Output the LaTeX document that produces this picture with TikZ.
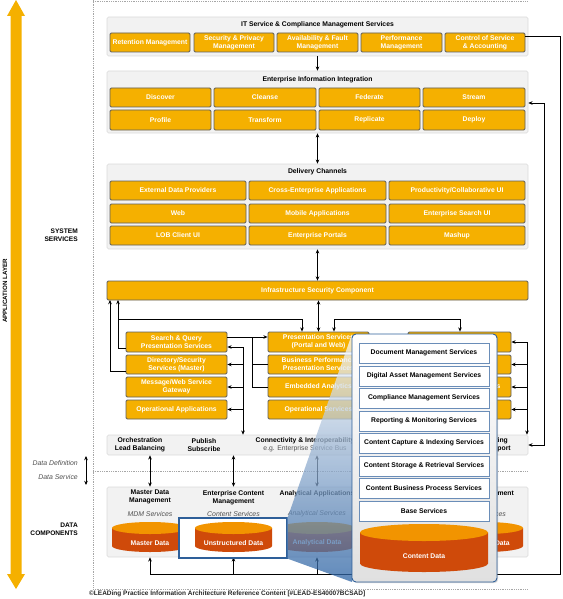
\documentclass[tikz,border=0pt]{standalone}
\usepackage{fontspec}
\setmainfont{Liberation Sans}
\usetikzlibrary{arrows.meta,shadows,calc}
\definecolor{gold}{HTML}{F5B000}
\definecolor{boxborder}{HTML}{5E5E5E}
\definecolor{panelfill}{HTML}{F2F2F2}
\definecolor{panelborder}{HTML}{DADADA}
\definecolor{cyltop}{HTML}{F29400}
\definecolor{cylbody}{HTML}{CF4A0A}
\definecolor{beamblue}{HTML}{2B62A3}
\definecolor{popborder}{HTML}{2E5F99}
\definecolor{sboxborder}{HTML}{6A8DB8}
\definecolor{textgray}{HTML}{505050}
\definecolor{popbot}{HTML}{E0E0E0}
\newcommand\fsz{\fontsize{6.8pt}{8pt}\selectfont}
\newcommand\rbox[7]{\node[#1,minimum width={(#5-#3)*1pt},minimum height={(#6-#4)*1pt}] (#2) at ({(#3+#5)/2},{(#4+#6)/2}) {#7};}
\newcommand\cyl[7]{%
  \fill[cylbody] ({#2-#4},#3) -- ({#2-#4},#6) arc[start angle=180,end angle=0,x radius=#4,y radius=#5] -- ({#2+#4},#3) -- cycle;
  \fill[cyltop] (#2,#3) ellipse [x radius=#4, y radius=#5];
  \node[font=\bfseries\fsz,text=white,inner sep=0] (#1) at (#2,{(#3+#6)/2+#5}) {#7};}
\begin{document}
\begin{tikzpicture}[x=1pt,y=-1pt,
  panel/.style={fill=panelfill,draw=panelborder,line width=0.6pt,rounded corners=1.5pt,inner sep=0},
  obox/.style={fill=gold,draw=boxborder,line width=0.8pt,rounded corners=1.3pt,text=white,font=\bfseries\fsz,align=center,inner sep=0},
  sbox/.style={fill=white,draw=sboxborder,line width=0.8pt,font=\bfseries\fsz,align=center,inner sep=0,drop shadow={opacity=0.2,shadow xshift=0.7pt,shadow yshift=-0.7pt}},
  lbl/.style={font=\bfseries\fsz,align=center,inner sep=0},
  svc/.style={font=\itshape\fontsize{6.9pt}{8pt}\selectfont,text=textgray,inner sep=0},
  arr/.style={-{Stealth[length=4.2pt,width=3.6pt]},line width=0.8pt},
  darr/.style={{Stealth[length=4.2pt,width=3.6pt]}-{Stealth[length=4.2pt,width=3.6pt]},line width=0.8pt},
  dotl/.style={draw=gray!70,line width=0.5pt,dash pattern=on 0.6pt off 1.2pt},
]
\useasboundingbox (0,0) rectangle (562,599);
% application layer arrow
\fill[gold] (16,0) -- (25,16) -- (21.5,16) -- (21.5,574) -- (25,574) -- (16,589) -- (7,574) -- (10.5,574) -- (10.5,16) -- (7,16) -- cycle;
\node[rotate=90,font=\bfseries\fontsize{6.2pt}{7pt}\selectfont,inner sep=0] (applbl) at (5,291) {APPLICATION LAYER};
% dotted frame lines
\draw[dotl] (93,1) -- (527,1);
\draw[dotl] (93,0) -- (93,590);
\draw[dotl] (93,471) -- (528,471);
\draw[dotl] (93,589) -- (528,589);
% left labels
\node[font=\bfseries\fontsize{6.6pt}{8pt}\selectfont,align=right,anchor=east,inner sep=0] (syslbl) at (78,235) {SYSTEM\\SERVICES};
\node[font=\bfseries\fontsize{6.6pt}{7.6pt}\selectfont,align=right,anchor=east,inner sep=0] (datalbl) at (78,529.5) {DATA\\COMPONENTS};
\node[svc,anchor=east] (ddef) at (78,463) {Data Definition};
\node[svc,anchor=east] (dsvc) at (78,477) {Data Service};
\coordinate (dd1) at (86,456);
\coordinate (dd2) at (86,485);
\draw[darr] (dd1) -- (dd2);
% IT service panel
\rbox{panel}{itp}{107}{17}{528}{56}{}
\node[lbl] (ittitle) at (317.5,25) {IT Service \& Compliance Management Services};
\rbox{obox}{it1}{110}{33}{190}{52}{Retention Management}
\rbox{obox}{it2}{194}{33}{274}{52}{Security \& Privacy\\Management}
\rbox{obox}{it3}{277}{33}{358}{52}{Availability \& Fault\\Management}
\rbox{obox}{it4}{361}{33}{442}{52}{Performance\\Management}
\rbox{obox}{it5}{445}{33}{525}{52}{Control of Service\\\& Accounting}
% EII panel
\rbox{panel}{eiip}{107}{71}{528}{133}{}
\node[lbl] (eiititle) at (317.5,80) {Enterprise Information Integration};
\rbox{obox}{e11}{110}{88}{211}{107}{Discover}
\rbox{obox}{e12}{214}{88}{316}{107}{Cleanse}
\rbox{obox}{e13}{319}{88}{420}{107}{Federate}
\rbox{obox}{e14}{423}{88}{525}{107}{Stream}
\rbox{obox}{e21}{110}{110}{211}{130}{Profile}
\rbox{obox}{e22}{214}{110}{316}{130}{Transform}
\rbox{obox}{e23}{319}{110}{420}{130}{Replicate}
\rbox{obox}{e24}{423}{110}{525}{130}{Deploy}
% Delivery channels
\rbox{panel}{delp}{107}{164}{528}{249}{}
\node[lbl] (deltitle) at (317.5,172) {Delivery Channels};
\rbox{obox}{d11}{110}{181}{246}{200}{External Data Providers}
\rbox{obox}{d12}{249}{181}{386}{200}{Cross-Enterprise Applications}
\rbox{obox}{d13}{389}{181}{525}{200}{Productivity/Collaborative UI}
\rbox{obox}{d21}{110}{204}{246}{223}{Web}
\rbox{obox}{d22}{249}{204}{386}{223}{Mobile Applications}
\rbox{obox}{d23}{389}{204}{525}{223}{Enterprise Search UI}
\rbox{obox}{d31}{110}{226}{246}{245}{LOB Client UI}
\rbox{obox}{d32}{249}{226}{386}{245}{Enterprise Portals}
\rbox{obox}{d33}{389}{226}{525}{245}{Mashup}
% infrastructure security
\rbox{obox}{isc}{107}{281}{528}{300}{Infrastructure Security Component}
% service columns
\rbox{obox}{l1}{126}{332}{227}{352}{Search \& Query\\Presentation Services}
\rbox{obox}{l2}{126}{355}{227}{374}{Directory/Security\\Services (Master)}
\rbox{obox}{l3}{126}{377}{227}{397}{Message/Web Service\\Gateway}
\rbox{obox}{l4}{126}{400}{227}{419}{Operational Applications}
\rbox{obox}{m1}{268}{332}{369}{352}{Presentation Services\\(Portal and Web)}
\rbox{obox}{m2}{268}{355}{369}{374}{Business Performance\\Presentation Services}
\rbox{obox}{m3}{268}{377}{369}{397}{Embedded Analytics}
\rbox{obox}{m4}{268}{400}{369}{419}{Operational Services}
\rbox{obox}{r1}{408}{332}{511}{352}{}
\rbox{obox}{r2}{408}{355}{511}{374}{}
\rbox{obox}{r3}{408}{377}{511}{397}{Data Integration Services}
\rbox{obox}{r4}{408}{400}{511}{419}{}
% bottom bar
\rbox{panel}{bar}{107}{435}{528}{455}{}
\node[lbl] (orch) at (140,445) {Orchestration\\Lead Balancing};
\node[lbl] (pubs) at (204,445) {Publish\\Subscribe};
\node[lbl] (conn) at (305,445) {Connectivity \& Interoperability\\\mdseries\color{textgray}e.g. Enterprise Service Bus};
\node[lbl] (rout) at (495,445) {Routing\\Transport};
% connectors system services
\draw[arr] (itp.south) -- (eiip.north);
\draw[darr] (eiip.south) -- (delp.north);
\draw[darr] (delp.south) -- (isc.north);
\draw[darr] (m1.north |- isc.south) -- (m1.north);
\coordinate (L1) at (110,300);
\coordinate (L2) at (118,300);
\coordinate (J1) at (118,319);
\coordinate (J2) at (334,319);
\draw[arr] (l2.south west) ++(0,-3.5) -| (L1);
\draw[arr] (l1.south west) ++(0,-4) -| (L2);
\draw[arr] (J1) -| (m1.north -| 302,0);
\draw[darr] (m1.north -| J2) -- (J2) -| (r1.north -| 460,0);
\coordinate (V1) at (252,337);
\draw[arr] (l1.east |- V1) -- (m1.west |- V1);
\draw (V1) |- (m3.west);
\draw (V1 |- m2.west) -- (m2.west);
\coordinate (V2) at (243,347);
\draw[arr] (V2) -- (V2 |- bar.north);
\draw[arr] (V2) -- (l1.east |- V2);
\draw[arr] (V2 |- l2.east) -- (l2.east);
\draw[arr] (V2 |- l3.east) -- (l3.east);
\draw[arr] (V2 |- l4.east) -- (l4.east);
\coordinate (V3) at (527,342);
\draw[arr] (V3) -- (V3 |- bar.north);
\draw[arr] (V3 |- r1.east) -- (r1.east);
\draw[arr] (V3 |- r2.east) -- (r2.east);
\draw[arr] (V3 |- r3.east) -- (r3.east);
\draw[arr] (V3 |- r4.east) -- (r4.east);
\coordinate (R5) at (544,103);
\coordinate (R6) at (544,445);
\draw[darr] (eiip.east |- R5) -- (R5) -- (R6) -- (bar.east |- R6);
% data components
\rbox{panel}{dpanel}{107}{487}{528}{557}{}
\draw[darr] (bar.south -| 150,0) -- (dpanel.north -| 150,0);
\draw[darr] (bar.south -| 233.5,0) -- (dpanel.north -| 233.5,0);
\draw[darr] (bar.south -| 317,0) -- (dpanel.north -| 317,0);
\coordinate (R1) at (560,36);
\coordinate (R2) at (560,574);
\coordinate (B1) at (150,574);
\coordinate (B2) at (233.5,574);
\coordinate (B3) at (317,574);
\coordinate (B4) at (485,574);
\draw[line width=0.8pt] (it5.east |- R1) -- (R1) -- (R2) -- (B1);
\draw[arr] (B1) -- (dpanel.south -| B1);
\draw[arr] (B2) -- (dpanel.south -| B2);
\draw[arr] (B3) -- (dpanel.south -| B3);
\draw[arr] (B4) -- (dpanel.south -| B4);
\node[lbl] (h1) at (150,497) {Master Data\\Management};
\node[lbl] (h2) at (233.5,498) {Enterprise Content\\Management};
\node[lbl] (h3) at (317,494) {Analytical Applications};
\node[lbl] (h5) at (485,494) {Risk Management};
\node[svc] (sv1) at (150,514) {MDM Services};
\node[svc] (sv2) at (233.5,514) {Content Services};
\node[svc] (sv3) at (317,514) {Analytical Services};
\node[svc] (sv5) at (485,514) {Risk Services};
\cyl{cy1}{150}{528}{38}{6}{546}{Master Data}
\cyl{cy3}{317}{528}{38}{6}{546}{Analytical Data}
\cyl{cy5}{485}{528}{38}{6}{546}{Reference Data}
\rbox{draw=popborder,line width=1.4pt,fill=white,inner sep=0}{hl}{179}{518}{287}{558}{}
\cyl{cy2}{233.5}{528}{38.5}{6}{546}{Unstructured Data}
% beam
\coordinate (P1) at (352,334);
\coordinate (P2) at (352,582);
\shade[top color=white,middle color=beamblue!35,bottom color=beamblue,fill opacity=0.75] (hl.north east) -- (P1) -- (P2) -- (hl.south east) -- cycle;
% popup
\rbox{draw=popborder,line width=0.9pt,rounded corners=4pt,top color=white,bottom color=popbot,inner sep=0,drop shadow={opacity=0.3,shadow xshift=1.2pt,shadow yshift=-1.2pt}}{popup}{352}{334}{497}{582}{}
\rbox{sbox}{s1}{359}{343}{489}{363}{Document Management Services}
\rbox{sbox}{s2}{359}{366}{489}{386}{Digital Asset Management Services}
\rbox{sbox}{s3}{359}{388}{489}{408}{Compliance Management Services}
\rbox{sbox}{s4}{359}{411}{489}{431}{Reporting \& Monitoring Services}
\rbox{sbox}{s5}{359}{433}{489}{453}{Content Capture \& Indexing Services}
\rbox{sbox}{s6}{359}{456}{489}{476}{Content Storage \& Retrieval Services}
\rbox{sbox}{s7}{359}{478}{489}{498}{Content Business Process Services}
\rbox{sbox}{s8}{359}{501}{489}{521}{Base Services}
\cyl{cyc}{424}{532.5}{64}{8.5}{563.5}{Content Data}
% footer
\node[anchor=west,font=\bfseries\fontsize{6.5pt}{7pt}\selectfont,text=black!85,inner sep=0] (foot) at (89,594) {\textcopyright LEADing Practice Information Architecture Reference Content [\#LEAD-ES40007BCSAD]};
\end{tikzpicture}
\end{document}
